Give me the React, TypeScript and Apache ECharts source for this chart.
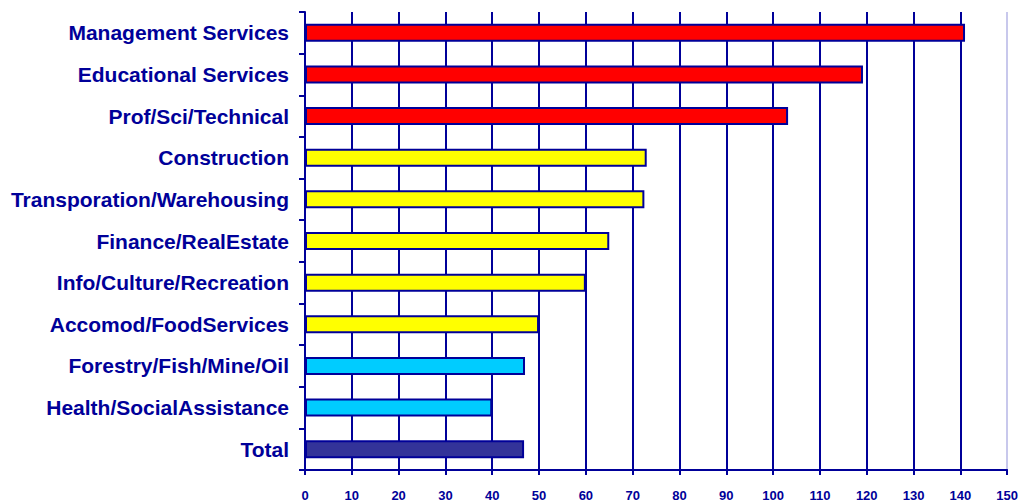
import React, { useEffect, useRef } from "react";
import * as echarts from "echarts";

const categories = [
  "Management Services",
  "Educational Services",
  "Prof/Sci/Technical",
  "Construction",
  "Transporation/Warehousing",
  "Finance/RealEstate",
  "Info/Culture/Recreation",
  "Accomod/FoodServices",
  "Forestry/Fish/Mine/Oil",
  "Health/SocialAssistance",
  "Total",
];
const values = [141, 119.2, 103.2, 73, 72.5, 65, 60, 50, 47, 40, 46.8];
const barColors = [
  "#FF0000", "#FF0000", "#FF0000",
  "#FFFF00", "#FFFF00", "#FFFF00", "#FFFF00", "#FFFF00",
  "#00CCFF", "#00CCFF",
  "#333399",
];

const NAVY = "#000099";

export default function App() {
  const ref = useRef<HTMLDivElement>(null);
  useEffect(() => {
    const chart = echarts.init(ref.current!, undefined, { renderer: "svg" });
    const cats = [...categories].reverse();
    const vals = [...values].reverse();
    const cols = [...barColors].reverse();
    const splitColors = Array.from({ length: 16 }, (_, i) => (i === 15 ? "#c8c8ec" : NAVY));
    chart.setOption({
      animation: false,
      grid: { left: 305, right: 13, top: 12, bottom: 30, containLabel: false },
      xAxis: {
        type: "value",
        min: 0,
        max: 150,
        interval: 10,
        axisLine: { show: true, lineStyle: { color: NAVY, width: 2 } },
        axisTick: { show: true, length: 5, lineStyle: { color: NAVY, width: 2 } },
        axisLabel: {
          color: NAVY,
          fontFamily: "Liberation Sans, Arial, sans-serif",
          fontWeight: "bold",
          fontSize: 13,
          margin: 19,
        },
        splitLine: { show: true, lineStyle: { color: splitColors, width: 2 } },
      },
      yAxis: {
        type: "category",
        data: cats,
        axisLine: { show: true, lineStyle: { color: NAVY, width: 2 } },
        axisTick: { show: true, length: 6, inside: false, lineStyle: { color: NAVY, width: 2 } },
        axisLabel: {
          color: NAVY,
          fontFamily: "Liberation Sans, Arial, sans-serif",
          fontWeight: "bold",
          fontSize: 21,
          margin: 16,
        },
        splitLine: { show: false },
      },
      series: [
        {
          type: "bar",
          data: vals.map((v, i) => ({ value: v, itemStyle: { color: cols[i] } })),
          barWidth: 18,
          itemStyle: { borderColor: NAVY, borderWidth: 2 },
        },
      ],
    });
    return () => chart.dispose();
  }, []);
  return (
    <div style={{ position: "absolute", left: 0, top: 0, width: 1021, height: 502, background: "#fff" }}>
      <div ref={ref} style={{ width: 1021, height: 502 }} />
    </div>
  );
}
